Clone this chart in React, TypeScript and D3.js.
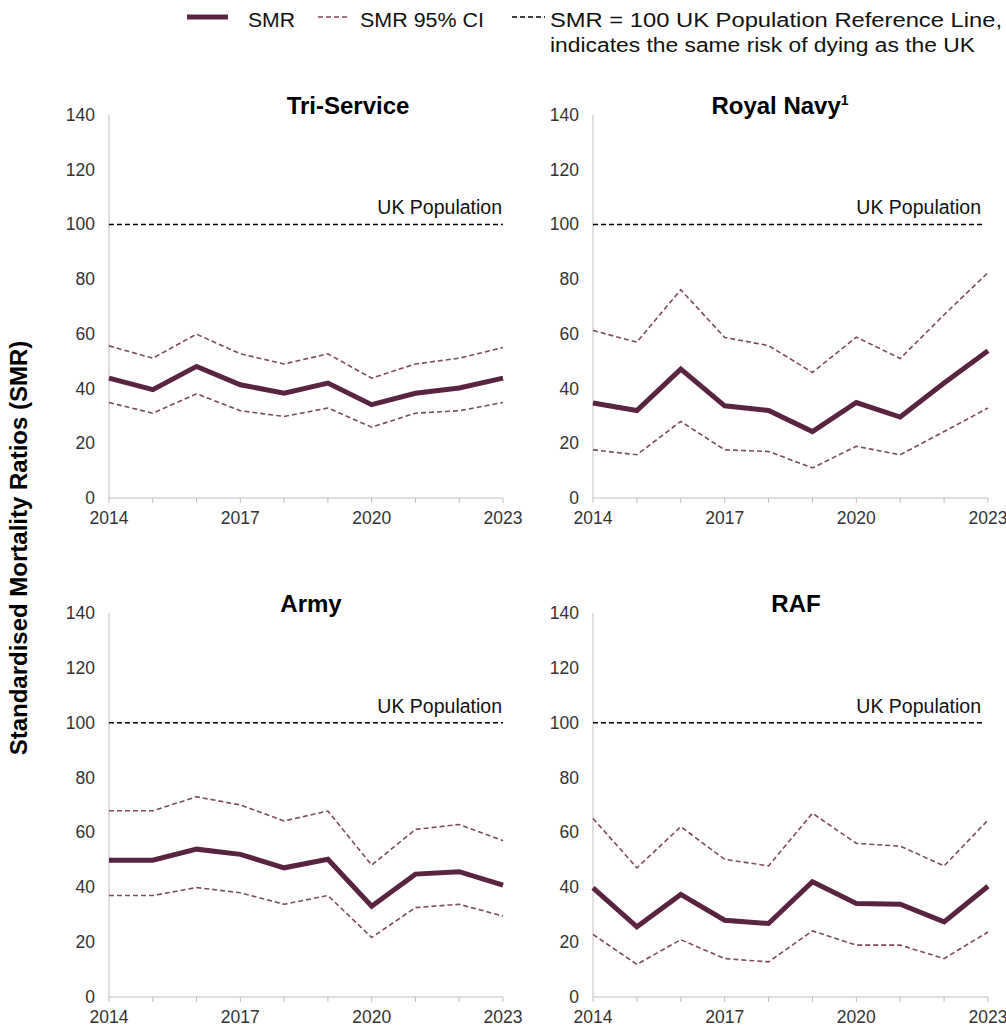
import * as d3 from 'd3';
import { useRef, useEffect } from "react"

// years on the x axis
const years = [2014, 2015, 2016, 2017, 2018, 2019, 2020, 2021, 2022, 2023]
const yearTicks = [2014, 2017, 2020, 2023]
const smrTicks = [0, 20, 40, 60, 80, 100, 120, 140]
const ukReference = 100

const triSmr = [43.8, 39.6, 48.1, 41.4, 38.3, 42.0, 34.1, 38.3, 40.2, 43.8]
const triUpper = [55.6, 51.1, 59.9, 52.7, 49.0, 52.7, 43.8, 49.0, 51.1, 55.0]
const triLower = [34.9, 31.0, 38.1, 31.9, 29.8, 32.9, 25.9, 31.0, 31.9, 34.9]

const navySmr = [34.7, 32.0, 47.1, 33.7, 32.0, 24.3, 34.9, 29.6, 42.0, 53.8]
const navyUpper = [61.2, 57.0, 76.1, 58.7, 55.7, 45.9, 58.8, 51.0, 67.0, 82.4]
const navyLower = [17.6, 15.8, 28.0, 17.6, 17.0, 11.0, 18.9, 15.8, 24.3, 32.9]

const armySmr = [49.9, 49.9, 53.9, 52.0, 47.1, 50.2, 33.1, 44.8, 45.7, 40.8]
const armyUpper = [67.9, 67.9, 73.0, 70.0, 64.2, 67.8, 48.1, 61.1, 62.9, 57.0]
const armyLower = [37.0, 37.0, 39.9, 38.0, 33.8, 37.0, 21.7, 32.6, 33.8, 29.5]

const rafSmr = [39.8, 25.6, 37.4, 28.0, 26.8, 42.0, 34.1, 33.8, 27.4, 40.4]
const rafUpper = [65.1, 47.1, 62.1, 50.2, 47.8, 67.0, 56.0, 55.0, 47.8, 64.5]
const rafLower = [22.8, 11.9, 20.9, 14.0, 12.8, 24.1, 18.9, 18.9, 14.0, 23.7]

const SMR_COLOR = "#5a2340"
const CI_COLOR = "#7b4a63"
const FONT = "'Liberation Sans', Arial, sans-serif"

function App() {
    const ref = useRef<SVGSVGElement | null>(null)

    useEffect(() => {
        renderChart();
    }, [])

    function renderChart() {
        const svg = d3.select(ref.current!)
        svg.selectAll("*").remove()

        const panels = [
            { title: "Tri-Service", sup: "", smr: triSmr, upper: triUpper, lower: triLower, left: 109, right: 503, refEnd: 503, top: 115, bottom: 498, titleX: 348 },
            { title: "Royal Navy", sup: "1", smr: navySmr, upper: navyUpper, lower: navyLower, left: 593, right: 988, refEnd: 982, top: 115, bottom: 498, titleX: 780 },
            { title: "Army", sup: "", smr: armySmr, upper: armyUpper, lower: armyLower, left: 109, right: 503, refEnd: 503, top: 613, bottom: 997, titleX: 311 },
            { title: "RAF", sup: "", smr: rafSmr, upper: rafUpper, lower: rafLower, left: 593, right: 988, refEnd: 982, top: 613, bottom: 997, titleX: 796 },
        ]

        panels.forEach(p => {
            const x = d3.scaleLinear().domain([2014, 2023]).range([p.left, p.right])
            const y = d3.scaleLinear().domain([0, 140]).range([p.bottom, p.top])
            const g = svg.append("g")

            // y axis line and labels
            g.append("line")
                .attr("x1", p.left).attr("x2", p.left)
                .attr("y1", y(140)).attr("y2", y(0))
                .attr("stroke", "#bfbfbf").attr("stroke-width", 1)
            g.selectAll(".ytick")
                .data(smrTicks)
                .enter()
                .append("text")
                .attr("x", p.left - 14)
                .attr("y", d => y(d) + 6)
                .attr("text-anchor", "end")
                .attr("font-size", 17.5)
                .attr("font-family", FONT)
                .attr("fill", "#333")
                .text(d => d)

            // x axis line, ticks and labels
            g.append("line")
                .attr("x1", p.left).attr("x2", p.right)
                .attr("y1", y(0)).attr("y2", y(0))
                .attr("stroke", "#bfbfbf").attr("stroke-width", 1)
            g.selectAll(".xtick")
                .data(years)
                .enter()
                .append("line")
                .attr("x1", d => x(d)).attr("x2", d => x(d))
                .attr("y1", y(0)).attr("y2", y(0) + 5)
                .attr("stroke", "#bfbfbf")
            g.selectAll(".xlabel")
                .data(yearTicks)
                .enter()
                .append("text")
                .attr("x", d => x(d))
                .attr("y", y(0) + 26)
                .attr("text-anchor", "middle")
                .attr("font-size", 17.5)
                .attr("font-family", FONT)
                .attr("fill", "#333")
                .text(d => d)

            // UK reference line
            g.append("line")
                .attr("x1", p.left).attr("x2", p.refEnd)
                .attr("y1", y(ukReference)).attr("y2", y(ukReference))
                .attr("stroke", "#000").attr("stroke-width", 1.6)
                .attr("stroke-dasharray", "5,3")
            g.append("text")
                .attr("x", p.refEnd - 1)
                .attr("y", y(ukReference) - 10)
                .attr("text-anchor", "end")
                .attr("font-size", 19.5)
                .attr("font-family", FONT)
                .attr("fill", "#111")
                .text("UK Population")

            // title
            const t = g.append("text")
                .attr("x", p.titleX)
                .attr("y", p.top - 1)
                .attr("text-anchor", "middle")
                .attr("font-size", 24)
                .attr("font-weight", "bold")
                .attr("font-family", FONT)
                .text(p.title)
            if (p.sup) {
                t.append("tspan")
                    .attr("font-size", 14)
                    .attr("dy", -9)
                    .text(p.sup)
            }

            const line = d3.line<number>()
                .x((_, i) => x(years[i]))
                .y(d => y(d))

            // CI lines
            ;[p.upper, p.lower].forEach(s => {
                g.append("path")
                    .datum(s)
                    .attr("d", line)
                    .attr("fill", "none")
                    .attr("stroke", CI_COLOR)
                    .attr("stroke-width", 1.6)
                    .attr("stroke-dasharray", "5,3")
            })

            // SMR line
            g.append("path")
                .datum(p.smr)
                .attr("d", line)
                .attr("fill", "none")
                .attr("stroke", SMR_COLOR)
                .attr("stroke-width", 5)
                .attr("stroke-linejoin", "miter")
        })

        // y axis title
        svg.append("text")
            .attr("transform", "translate(27,548) rotate(-90)")
            .attr("text-anchor", "middle")
            .attr("font-size", 24)
            .attr("font-weight", "bold")
            .attr("font-family", FONT)
            .text("Standardised Mortality Ratios (SMR)")

        // legend
        const lg = svg.append("g").attr("font-family", FONT).attr("font-size", 20).attr("fill", "#111")
        lg.append("line").attr("x1", 187).attr("x2", 228).attr("y1", 17).attr("y2", 17)
            .attr("stroke", SMR_COLOR).attr("stroke-width", 5)
        lg.append("text").attr("x", 248).attr("y", 27).text("SMR")
            .attr("textLength", 47).attr("lengthAdjust", "spacingAndGlyphs")
        lg.append("line").attr("x1", 318).attr("x2", 347).attr("y1", 17).attr("y2", 17)
            .attr("stroke", CI_COLOR).attr("stroke-width", 1.6).attr("stroke-dasharray", "5,3")
        lg.append("text").attr("x", 360).attr("y", 27).text("SMR 95% CI")
            .attr("textLength", 124).attr("lengthAdjust", "spacingAndGlyphs")
        lg.append("line").attr("x1", 512).attr("x2", 545).attr("y1", 17).attr("y2", 17)
            .attr("stroke", "#000").attr("stroke-width", 1.6).attr("stroke-dasharray", "5,3")
        lg.append("text").attr("x", 550).attr("y", 27).text("SMR = 100 UK Population Reference Line,")
            .attr("textLength", 452).attr("lengthAdjust", "spacingAndGlyphs")
        lg.append("text").attr("x", 550).attr("y", 52).text("indicates the same risk of dying as the UK")
            .attr("textLength", 425).attr("lengthAdjust", "spacingAndGlyphs")
    }

    return (
        <div style={{ position: 'absolute', left: 0, top: 0 }}>
            <svg
                width={1006}
                height={1026}
                ref={ref}
                style={{ display: 'block', background: '#fff' }}
            />
        </div>
    )
}

export default App;
